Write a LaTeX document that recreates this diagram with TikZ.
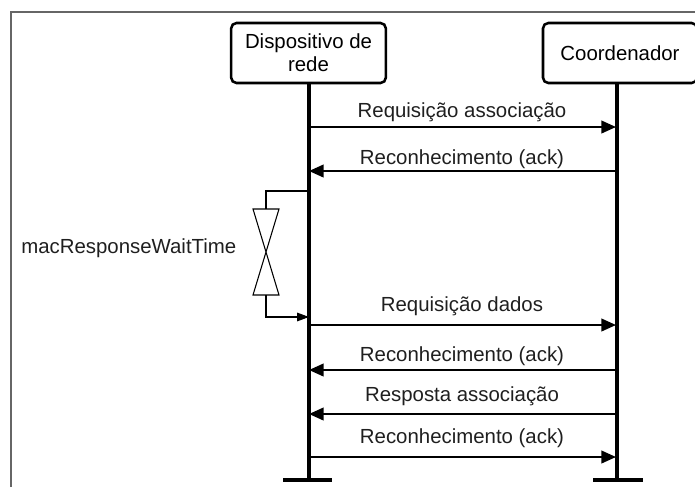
\documentclass[tikz,border=0pt]{standalone}
\usepackage{fontspec}
\setmainfont{Liberation Sans}
\usetikzlibrary{arrows.meta}
\begin{document}
\begin{tikzpicture}[x=0.75pt,y=-0.75pt,
  actor/.style={draw,line width=1.9pt,rounded corners=4pt,minimum height=45pt,inner sep=0pt,align=center,font=\fontsize{15.3pt}{17.5pt}\selectfont},
  life/.style={line width=3pt},
  foot/.style={line width=3pt},
  msg/.style={line width=1.5pt,-{Triangle[length=11pt,width=9.5pt]}},
  lbl/.style={font=\fontsize{15.3pt}{18pt}\selectfont,inner sep=0pt,text=black!88},
  thin/.style={line width=0.8pt}]
\useasboundingbox (0,0) rectangle (695,487);
\clip (0,0) rectangle (695,487);
% frame
\draw[line width=1.3pt,gray!80!black] (11,487) -- (11,12) -- (700,12);
% actors
\node[actor,minimum width=116pt] (dev) at (308.5,53) {Dispositivo de\\rede};
\node[actor,minimum width=115.5pt] (coord) at (620,53) {Coordenador};
% lifelines
\coordinate (devEnd) at (309,480);
\coordinate (coEnd) at (617,480);
\draw[life] (dev.south -| devEnd) -- (devEnd);
\draw[life] (coord.south -| coEnd) -- (coEnd);
\coordinate (devFL) at (283,480); \coordinate (devFR) at (332,480);
\coordinate (coFL) at (593,480); \coordinate (coFR) at (643,480);
\draw[foot] (devFL) -- (devFR);
\draw[foot] (coFL) -- (coFR);
% message anchors
\foreach \n/\y in {a/127,b/171,c/325,d/370,e/414,f/457}{
  \coordinate (d\n) at (309,\y);
  \coordinate (c\n) at (616,\y);
}
\draw[msg] (da) -- (ca);
\draw[msg] (cb) -- (db);
\draw[msg] (dc) -- (cc);
\draw[msg] (cd) -- (dd);
\draw[msg] (ce) -- (de);
\draw[msg] (df) -- (cf);
\node[lbl,anchor=base] (la) at (462,117) {Requisição associação};
\node[lbl,anchor=base] (lb) at (462,164) {Reconhecimento (ack)};
\node[lbl,anchor=base] (lc) at (462,311) {Requisição dados};
\node[lbl,anchor=base] (ld) at (462,361) {Reconhecimento (ack)};
\node[lbl,anchor=base] (le) at (462,401) {Resposta associação};
\node[lbl,anchor=base] (lf) at (462,443) {Reconhecimento (ack)};
% timer
\coordinate (tStart) at (309,191);
\coordinate (tEnd) at (309,317);
\coordinate (hgTop) at (266,209);
\coordinate (hgBot) at (266,295);
\draw[thin] (tStart) -| (hgTop);
\draw[thin] (253,209) -- (279,209) -- (253,295) -- (279,295) -- cycle;
\draw[thin,-{Triangle[length=9pt,width=6.5pt]}] (hgBot) |- (tEnd);
\node[lbl,anchor=base west] (mrwt) at (21,253) {macResponseWaitTime};
\end{tikzpicture}
\end{document}
